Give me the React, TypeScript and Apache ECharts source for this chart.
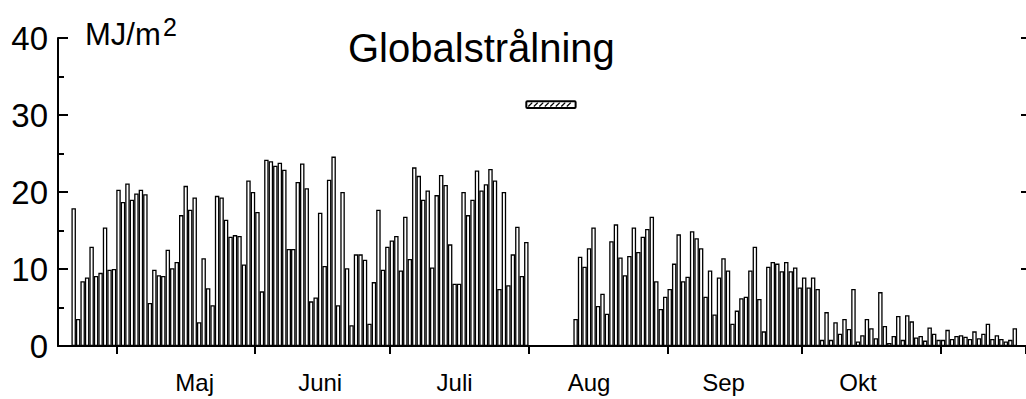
import React, { useEffect, useRef } from "react";
import * as echarts from "echarts";

// Daily global radiation, MJ/m2 (null = no data)
const months = [4, 5, 6, 7, 8, 9, 10, 11];
const firstDays = [18, 1, 1, 1, 1, 1, 1, 1];
const lastDays = [30, 31, 30, 31, 31, 30, 31, 19];

const aprilValues = [null, null, null, 17.9, 3.5, 8.4, 8.9, 12.9, 9.1, 9.5, 15.4, 9.9, 10.0];
const mayValues = [20.3, 18.7, 21.1, 19.0, 19.8, 20.3, 19.7, 5.6, 9.9, 9.2, 9.1, 12.5, 10.1, 10.9, 17.0, 20.8, 17.7, 19.3, 3.1, 11.4, 7.5, 5.3, 19.5, 19.3, 16.4, 14.2, 14.4, 14.3, 10.6, 21.5, 20.0];
const juneValues = [17.4, 7.1, 24.2, 24.0, 23.4, 23.8, 22.9, 12.6, 12.6, 21.3, 23.7, 20.5, 5.8, 6.3, 17.3, 10.4, 21.6, 24.6, 5.3, 20.0, 10.1, 2.7, 11.9, 11.9, 11.2, 2.9, 8.3, 17.7, 9.9, 12.9];
const julyValues = [13.7, 14.3, 9.8, 16.8, 11.3, 23.2, 22.1, 19.0, 20.2, 10.2, 19.6, 22.2, 20.9, 13.2, 8.1, 8.1, 20.0, 17.0, 19.0, 22.8, 20.2, 21.0, 23.0, 21.5, 7.4, 20.0, 7.9, 11.9, 15.5, 9.1, 13.5];
const augustValues = [null, null, null, null, null, null, null, null, null, null, 3.5, 11.6, 10.3, 12.7, 15.4, 5.2, 6.8, 4.2, 13.6, 15.8, 11.5, 9.2, 11.7, 15.4, 12.2, 14.2, 15.2, 16.8, 8.4, 4.8, 6.4];
const septemberValues = [7.4, 10.7, 14.5, 8.4, 9.0, 14.9, 14.0, 12.7, 6.4, 9.8, 4.1, 8.9, 11.4, 9.8, 2.9, 4.6, 6.2, 6.4, 9.8, 12.9, 6.1, 1.9, 10.3, 10.9, 10.7, 9.7, 10.9, 9.7, 10.2, 7.6];
const octoberValues = [8.9, 7.6, 8.9, 7.4, 0.8, 4.4, 0.8, 3.1, 1.6, 3.5, 2.2, 7.4, 0.6, 1.4, 3.5, 2.3, 1.0, 7.0, 2.6, 0.4, 1.3, 3.9, 0.8, 4.0, 3.2, 1.1, 1.3, 0.7, 2.4, 1.6, 0.8];
const novemberValues = [0.8, 2.1, 0.9, 1.3, 1.4, 1.2, 0.9, 1.9, 1.0, 1.6, 2.9, 0.9, 1.4, 0.9, 0.6, 0.8, 2.3, null, null];

// Month labels on the x axis and the day each is centred on
const labelMonths = ["Maj", "Juni", "Juli", "Aug", "Sep", "Okt"];
const labelKeys = ["5-18", "6-15", "7-15", "8-14", "9-13", "10-13"];

// Missing-data period marker
const gapStart = "8-1";
const gapEnd = "8-10";
const gapLow = 30.9;
const gapHigh = 31.8;

const categories: string[] = [];
months.forEach((m, i) => {
  for (let d = firstDays[i]; d <= lastDays[i]; d++) categories.push(`${m}-${d}`);
});
const values = [
  ...aprilValues, ...mayValues, ...juneValues, ...julyValues,
  ...augustValues, ...septemberValues, ...octoberValues, ...novemberValues,
];

const FONT = "'Liberation Sans', Arial, sans-serif";

export default function App() {
  const ref = useRef<HTMLDivElement>(null);
  useEffect(() => {
    const chart = echarts.init(ref.current as HTMLDivElement, null, { renderer: "svg" });
    const labelMap: Record<string, string> = {};
    labelKeys.forEach((k, i) => (labelMap[k] = labelMonths[i]));
    const option = {
      animation: false,
      backgroundColor: "#fff",
      grid: { left: 58, right: 0, top: 38, bottom: 53, containLabel: false, outerBoundsMode: "none" },
      graphic: [
        { type: "text", left: 348, top: 28, style: { text: "Globalstrålning", font: `40px ${FONT}`, fill: "#000" } },
        { type: "text", left: 85, top: 19, style: { text: "MJ/m", font: `31px ${FONT}`, fill: "#000" } },
        { type: "text", left: 163, top: 14, style: { text: "2", font: `25px ${FONT}`, fill: "#000" } },
      ],
      xAxis: {
        type: "category",
        data: categories,
        boundaryGap: true,
        axisLine: { show: true, lineStyle: { color: "#000", width: 2 } },
        axisTick: {
          show: true,
          length: 8,
          lineStyle: { color: "#000", width: 2 },
          interval: (_i: number, v: string) => v.split("-")[1] === "1",
        },
        axisLabel: {
          interval: (_i: number, v: string) => labelKeys.includes(v),
          formatter: (v: string) => labelMap[v] || "",
          color: "#000",
          fontSize: 24,
          fontFamily: FONT,
          margin: 24,
        },
        splitLine: { show: false },
      },
      yAxis: [
        {
          type: "value",
          min: 0,
          max: 40,
          interval: 10,
          position: "left",
          axisLine: { show: true, lineStyle: { color: "#000", width: 2 } },
          axisTick: { show: true, inside: true, length: 10, lineStyle: { color: "#000", width: 2 } },
          minorTick: { show: true, splitNumber: 2, length: 6, lineStyle: { color: "#000", width: 2 } },
          axisLabel: { color: "#000", fontSize: 33, fontFamily: FONT, margin: 10 },
          splitLine: { show: false },
        },
        {
          type: "value",
          min: 0,
          max: 40,
          interval: 10,
          position: "right",
          axisLine: { show: false },
          axisTick: { show: true, inside: true, length: 5, lineStyle: { color: "#000", width: 2 } },
          axisLabel: { show: false },
          splitLine: { show: false },
        },
      ],
      series: [
        {
          type: "bar",
          data: values,
          barCategoryGap: "0%",
          itemStyle: { color: "#fff", borderColor: "#000", borderWidth: 1.3 },
          z: 2,
        },
        {
          type: "custom",
          xAxisIndex: 0,
          yAxisIndex: 0,
          data: [[categories.indexOf(gapStart), categories.indexOf(gapEnd), gapLow, gapHigh]],
          encode: { x: [0, 1], y: [2, 3] },
          renderItem: (_params: any, api: any) => {
            const s = api.coord([api.value(0), api.value(3)]);
            const e = api.coord([api.value(1), api.value(2)]);
            const band = api.size([1, 0])[0];
            const x0 = s[0] - band;
            const x1 = e[0] + band;
            const y0 = s[1];
            const y1 = e[1];
            const h = y1 - y0;
            const children: any[] = [
              {
                type: "rect",
                shape: { x: x0, y: y0, width: x1 - x0, height: h, r: 1 },
                style: { fill: "#fff", stroke: "#000", lineWidth: 2 },
              },
            ];
            for (let x = x0 + 2; x + h - 2 <= x1 - 2; x += 5.5) {
              children.push({
                type: "line",
                shape: { x1: x, y1: y1 - 1.5, x2: x + h - 3, y2: y0 + 1.5 },
                style: { stroke: "#000", lineWidth: 1.3 },
              });
            }
            return { type: "group", children };
          },
          z: 3,
        },
      ],
    };
    chart.setOption(option as any);
    return () => chart.dispose();
  }, []);
  return <div ref={ref} style={{ position: "absolute", left: 0, top: 0, width: 1026, height: 399 }} />;
}
